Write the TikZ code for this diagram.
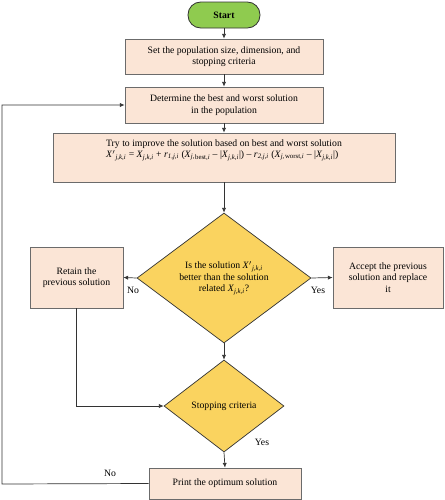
\documentclass[tikz,border=0pt]{standalone}
\usepackage{amsmath}
\usepackage{fontspec}
\setmainfont{Liberation Serif}
\usepackage{tikz}
\usetikzlibrary{arrows.meta}
\usetikzlibrary{shapes.geometric}
\definecolor{boxfill}{HTML}{FBE5D6}
\definecolor{boxline}{HTML}{6B6B6B}
\definecolor{decfill}{HTML}{FAD35F}
\definecolor{startfill}{HTML}{8FCB4F}
\definecolor{flowline}{HTML}{333333}
% italic variable with subscript, set in text
\newcommand{\vx}[2][]{\textit{X}#1\textsubscript{\textit{#2}}}

\begin{document}
\begin{tikzpicture}[x=0.03cm, y=-0.03cm,
  every node/.style={font=\fontsize{8.3}{9.8}\selectfont, text=black},
  box/.style={draw=boxline, fill=boxfill, line width=0.7pt, inner sep=0pt, align=center},
  decision/.style={diamond, draw=flowline, fill=decfill, line width=0.6pt, inner sep=0pt, align=center},
  flow/.style={draw=flowline, line width=0.6pt, -{Latex[length=4pt,width=3.6pt]}}]
\useasboundingbox (0,0) rectangle (444,500);
\coordinate (loop) at (2,484);
% draws boxes
\node[box, draw=flowline, fill=startfill, rounded corners=0.38cm, minimum width=2.16cm, minimum height=0.78cm, font=\fontsize{8.3}{9.8}\selectfont\bfseries] (start) at (224,15) {Start};
\node[box, minimum width=5.94cm, minimum height=1.05cm] (setup) at (224,56.5) {Set the population size, dimension, and\\stopping criteria};
\node[box, minimum width=5.94cm, minimum height=1.08cm] (best) at (224,105) {Determine the best and worst solution\\in the population};
\node[box, minimum width=10.26cm, minimum height=1.47cm] (improve) at (224,157.5) {};
\node[anchor=north, align=left, inner sep=0pt] (improvetext) at ([yshift=-0.2cm]improve.north) {Try to improve the solution based on best and worst solution\\
\vx[$'$]{j,k,i} = \vx{j,k,i} + \textit{r}\textsubscript{\textit{1,j,i}} (\vx{j,}\textsubscript{best,\textit{i}} -- |\vx{j,k,i}|) -- \textit{r}\textsubscript{\textit{2,j,i}} (\vx{j,}\textsubscript{worst,\textit{i}} -- |\vx{j,k,i}|)};
\node[decision, minimum width=5.22cm, minimum height=3.9cm] (better) at (224,278) {Is the solution \vx[$'$]{j,k,i}\\better than the solution\\related \vx{j,k,i}?};
\node[box, minimum width=2.79cm, minimum height=1.83cm] (retain) at (76.5,277.5) {Retain the\\previous solution};
\node[box, minimum width=3.3cm, minimum height=1.83cm] (accept) at (388,277.5) {Accept the previous\\solution and replace\\it};
\node[decision, minimum width=3.6cm, minimum height=2.76cm] (stop) at (224,406) {Stopping criteria};
\node[box, minimum width=4.56cm, minimum height=0.93cm] (print) at (225,483.5) {Print the optimum solution};
% labels branches
\node (nobetter) at (133,290) {No};
\node (yesbetter) at (318,290) {Yes};
\node (yesstop) at (262,442) {Yes};
\node (nostop) at (110,473) {No};
% draws connectors
\draw[flow] (start) -- (setup);
\draw[flow] (setup) -- (best);
\draw[flow] (best) -- (improve);
\draw[flow] (improve) -- (better);
\draw[flow] (better.west) -- (retain.east);
\draw[flow] (better.east) -- (accept.west);
\draw[flow] (better.south) -- (stop.north);
\draw[flow] (retain.south) |- (stop.west);
\draw[flow] (stop.south) -- (print.north);
\draw[flow] (print.west) -- (loop) |- (best.west);
\end{tikzpicture}
\end{document}
